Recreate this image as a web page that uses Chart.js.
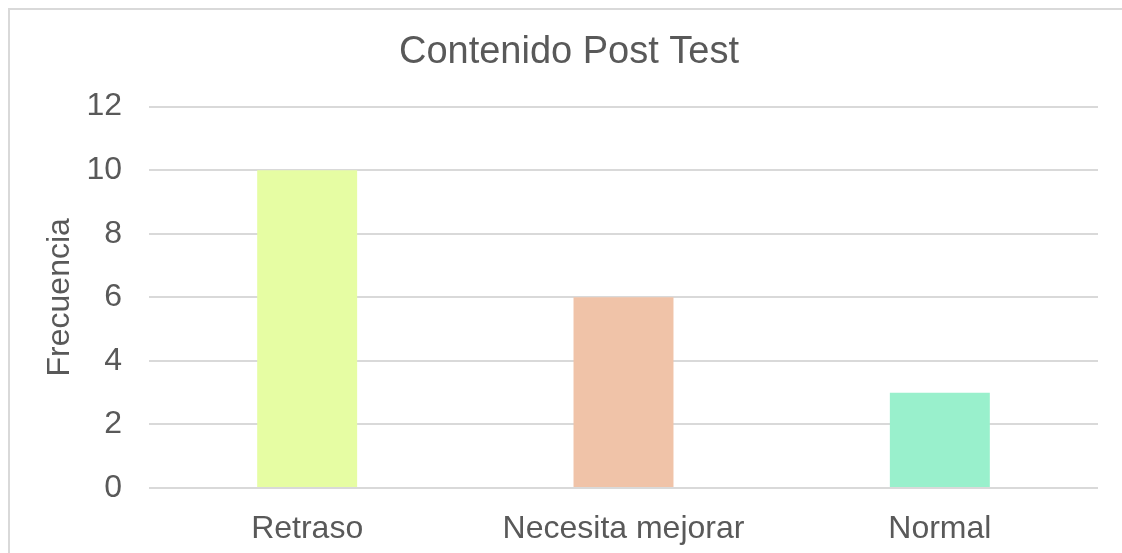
<!DOCTYPE html>
<html>
<head>
<meta charset="utf-8">
<script src="https://cdn.jsdelivr.net/npm/chart.js@4"></script>
<style>
    html, body { margin: 0; padding: 0; background: #fff; overflow: hidden; }
    #frame {
        position: absolute; left: 8px; top: 8px;
        width: 1200px; height: 600px;
        border: 2px solid #d9d9d9; box-sizing: border-box;
    }
    #wrap { position: absolute; left: 0; top: 0; width: 1138px; height: 553px; }
</style>
</head>
<body>
<div id="frame"></div>
<div id="wrap"><canvas id="barChart"></canvas></div>
<script>
// Datos
const categorias = ['Retraso', 'Necesita mejorar', 'Normal'];
const frecuencias = [10, 6, 3];
const coloresBarras = ['#E6FDA3', '#F0C3A8', '#99F0CC'];
const ticksY = [0, 2, 4, 6, 8, 10, 12];

const textColor = '#595959';
const gridColor = '#d9d9d9';
const fontFamily = '"Liberation Sans", Arial, sans-serif';

function initializeChart() {
    const canvas = document.getElementById('barChart');
    if (!canvas) return;

    new Chart(canvas.getContext('2d'), {
        type: 'bar',
        data: {
            labels: categorias,
            datasets: [{
                label: 'Frecuencia',
                data: frecuencias,
                backgroundColor: coloresBarras,
                barPercentage: 0.316,
                categoryPercentage: 1
            }]
        },
        options: {
            responsive: true,
            maintainAspectRatio: false,
            animation: false,
            layout: { padding: 0 },
            plugins: {
                legend: { display: false },
                tooltip: { enabled: false },
                title: {
                    display: true,
                    text: 'Contenido Post Test',
                    color: textColor,
                    font: { family: fontFamily, size: 38, weight: 'normal' },
                    padding: { top: 30, bottom: 31 }
                }
            },
            scales: {
                x: {
                    grid: { display: false },
                    border: { display: false },
                    ticks: {
                        color: textColor,
                        font: { family: fontFamily, size: 32 },
                        padding: 14,
                        maxRotation: 0
                    },
                    afterFit: (scale) => { scale.height = 65; }
                },
                y: {
                    min: ticksY[0],
                    max: ticksY[ticksY.length - 1],
                    afterBuildTicks: (scale) => {
                        scale.ticks = ticksY.map(v => ({ value: v }));
                    },
                    grid: { color: gridColor, lineWidth: 2, drawTicks: false },
                    border: { display: false },
                    ticks: {
                        color: textColor,
                        font: { family: fontFamily, size: 32 },
                        padding: 27
                    },
                    title: {
                        display: true,
                        text: 'Frecuencia',
                        color: textColor,
                        font: { family: fontFamily, size: 32 },
                        padding: { top: 41, bottom: 0 }
                    },
                    afterFit: (scale) => { scale.width = 149; }
                },
                // eje vacío a la derecha: sólo reserva espacio para que el título quede centrado como en el original
                margenDerecho: {
                    position: 'right',
                    grid: { display: false },
                    border: { display: false },
                    ticks: { display: false },
                    afterFit: (scale) => { scale.width = 40; }
                }
            }
        }
    });
}

document.addEventListener('DOMContentLoaded', initializeChart);
</script>
</body>
</html>
